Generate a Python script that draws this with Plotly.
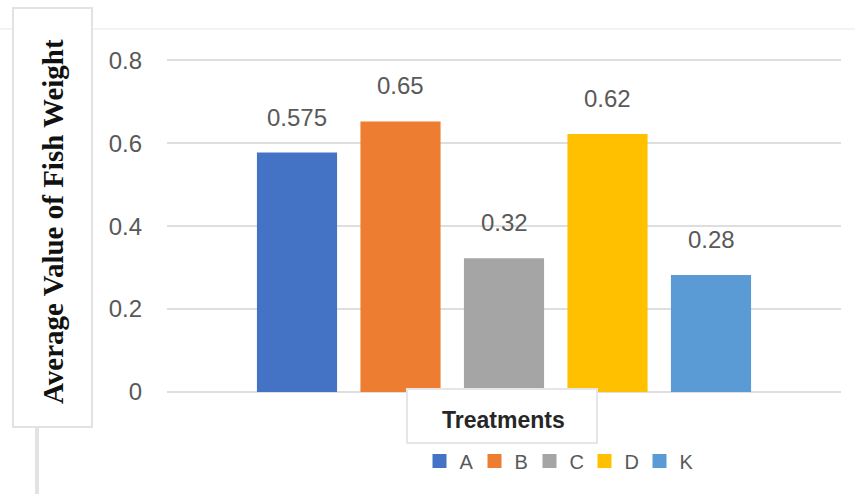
import plotly.graph_objects as go

# Average fish weight per treatment
treatments = ["A", "B", "C", "D", "K"]
avg_weight = [0.575, 0.65, 0.32, 0.62, 0.28]
bar_colors = ["#4472C4", "#ED7D31", "#A5A5A5", "#FFC000", "#5B9BD5"]
y_ticks = [0, 0.2, 0.4, 0.6, 0.8]
y_tick_text = ["0", "0.2", "0.4", "0.6", "0.8"]

W, H = 855, 494
M_L, M_R, M_T, M_B = 167, 14, 52, 102
PW, PH = W - M_L - M_R, H - M_T - M_B


def px_x(px):
    """Pixel column -> paper x."""
    return (px - M_L) / PW


def px_y(py):
    """Pixel row -> paper y."""
    return (H - M_B - py) / PH


fig = go.Figure()
for name, val, col in zip(treatments, avg_weight, bar_colors):
    fig.add_trace(go.Bar(
        x=[name], y=[val], name=name,
        marker=dict(color=col, line=dict(color=col, width=2)),
        width=0.755, showlegend=True,
    ))

# value labels above each bar
for name, val in zip(treatments, avg_weight):
    fig.add_annotation(
        x=name, y=val, xref="x", yref="y", text=f"{val:g}",
        showarrow=False, yanchor="bottom", yshift=21,
        font=dict(family="Liberation Sans, Arial", size=24, color="#595959"),
    )

grid = "#DEDEDE"
fig.update_layout(
    width=W, height=H,
    margin=dict(l=M_L, r=M_R, t=M_T, b=M_B),
    paper_bgcolor="white", plot_bgcolor="white",
    barmode="overlay",
    showlegend=True,
    legend=dict(
        orientation="h", x=px_x(557), y=px_y(461), xanchor="center", yanchor="middle",
        font=dict(family="Liberation Sans, Arial", size=20, color="#595959"),
        bgcolor="rgba(0,0,0,0)", itemwidth=30, entrywidth=10,
    ),
    xaxis=dict(
        categoryorder="array", categoryarray=treatments,
        range=[-1.256, 5.256], showticklabels=False, showgrid=False,
        zeroline=False, showline=False, ticks="",
    ),
    yaxis=dict(
        range=[0, 0.82], tickvals=y_ticks, ticktext=y_tick_text,
        showgrid=True, gridcolor=grid, gridwidth=2,
        zeroline=True, zerolinecolor=grid, zerolinewidth=2,
        showline=False, ticks="", ticklabelstandoff=24,
        tickfont=dict(family="Liberation Sans, Arial", size=24, color="#595959"),
    ),
)

shapes = [
    # faint outer chart border at the top
    dict(type="line", xref="paper", yref="paper", x0=px_x(0), x1=px_x(855),
         y0=px_y(29), y1=px_y(29), line=dict(color="#F3F3F3", width=2)),
    # box around the vertical axis title
    dict(type="rect", xref="paper", yref="paper", x0=px_x(13), x1=px_x(92),
         y0=px_y(427), y1=px_y(8), line=dict(color="#E2E2E2", width=2),
         fillcolor="white", layer="above"),
    # connector line below the title box
    dict(type="line", xref="paper", yref="paper", x0=px_x(37), x1=px_x(37),
         y0=px_y(428), y1=px_y(494), line=dict(color="#E2E2E2", width=4)),
    # box around the horizontal axis title
    dict(type="rect", xref="paper", yref="paper", x0=px_x(407), x1=px_x(597),
         y0=px_y(443), y1=px_y(389), line=dict(color="#E6E6E6", width=2),
         fillcolor="white", layer="above"),
]
fig.update_layout(shapes=shapes)

fig.add_annotation(
    xref="paper", yref="paper", x=px_x(53), y=px_y(222),
    xanchor="center", yanchor="middle",
    text="<b>Average Value of Fish Weight</b>", textangle=-90, showarrow=False,
    font=dict(family="Liberation Serif, Times New Roman", size=29, color="#111111"),
)
fig.add_annotation(
    xref="paper", yref="paper", x=px_x(503), y=px_y(420),
    xanchor="center", yanchor="middle",
    text="<b>Treatments</b>", showarrow=False,
    font=dict(family="Liberation Sans, Arial", size=23, color="#262626"),
)

fig.write_html("out.html")
